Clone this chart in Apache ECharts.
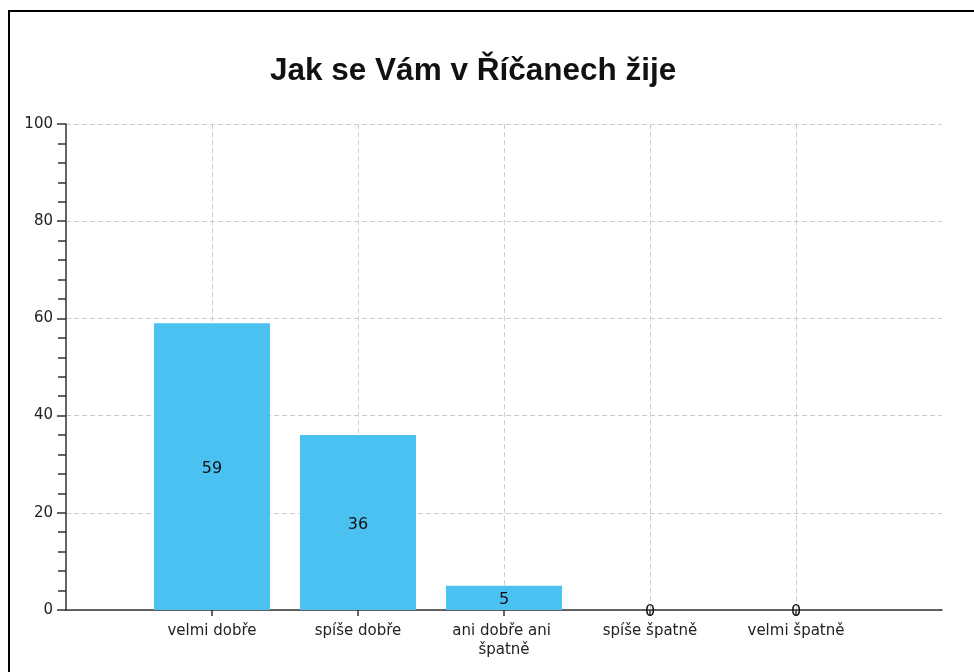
<!DOCTYPE html>
<html>
<head>
<meta charset="utf-8">
<script src="https://cdn.jsdelivr.net/npm/echarts@6/dist/echarts.min.js"></script>
<style>
  html, body { margin: 0; padding: 0; background: #fff; }
  #chart { width: 974px; height: 672px; }
</style>
</head>
<body>
<div id="chart"></div>
<script>
const title = 'Jak se Vám v Říčanech žije'
const categories = ['velmi dobře', 'spíše dobře', 'ani dobře ani špatně', 'spíše špatně', 'velmi špatně']
const values = [59, 36, 5, 0, 0]
const yTicks = [0, 20, 40, 60, 80, 100]

// bars sit on slots 1..5 of a 0..6 value axis
const positions = categories.map((c, i) => i + 1)
const barData = values.map((v, i) => [positions[i], v])

const chart = echarts.init(document.getElementById('chart'))

const option = {
  backgroundColor: '#fff',
  animation: false,
  title: {
    text: title,
    left: 265,
    top: 50,
    textStyle: {
      fontFamily: 'Liberation Sans',
      fontSize: 31.5,
      fontWeight: 'bold',
      color: '#111'
    }
  },
  graphic: [{
    type: 'rect',
    shape: { x: 9, y: 11, width: 1000, height: 700 },
    style: { fill: 'none', stroke: '#000', lineWidth: 2 },
    silent: true
  }],
  grid: {
    left: 66,
    right: 32,
    top: 124,
    bottom: 62
  },
  xAxis: {
    type: 'value',
    min: 0,
    max: 6,
    interval: 1,
    axisLine: {
      lineStyle: { color: '#333', width: 1.5 }
    },
    axisTick: {
      show: true,
      length: 6,
      customValues: positions,
      lineStyle: { color: '#333', width: 1.5 }
    },
    axisLabel: {
      customValues: positions,
      formatter: (v) => categories[v - 1] || '',
      color: '#222',
      fontFamily: 'DejaVu Sans',
      fontSize: 15,
      margin: 12,
      width: 130,
      overflow: 'break',
      lineHeight: 19
    },
    splitLine: {
      show: true,
      lineStyle: { color: '#ccc', type: [5, 3], width: 1 }
    }
  },
  yAxis: {
    type: 'value',
    min: yTicks[0],
    max: yTicks[yTicks.length - 1],
    interval: 20,
    axisLine: {
      show: true,
      lineStyle: { color: '#333', width: 1.5 }
    },
    axisTick: {
      show: true,
      length: 9,
      lineStyle: { color: '#333', width: 1.5 }
    },
    minorTick: {
      show: true,
      splitNumber: 5,
      length: 8,
      lineStyle: { color: '#333', width: 1.5 }
    },
    axisLabel: {
      color: '#222',
      fontFamily: 'DejaVu Sans',
      fontSize: 15,
      margin: 13
    },
    splitLine: {
      show: true,
      lineStyle: { color: '#ccc', type: [5, 3], width: 1 }
    }
  },
  series: [
    {
      type: 'bar',
      data: barData,
      barWidth: 116,
      itemStyle: {
        color: '#4BC1F1'
      },
      label: {
        show: true,
        position: 'inside',
        offset: [0, 2],
        formatter: (p) => p.value[1],
        color: '#111',
        fontFamily: 'DejaVu Sans',
        fontSize: 16
      }
    }
  ]
}

chart.setOption(option)
</script>
</body>
</html>
